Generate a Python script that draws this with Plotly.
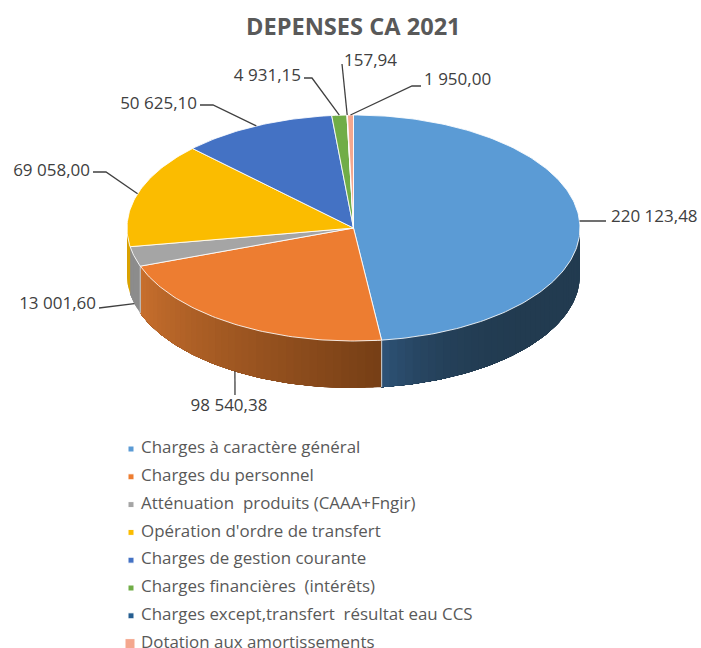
import math
from plotly import graph_objects as go

title = "DEPENSES CA 2021"
categories = ["Charges à caractère général", "Charges du personnel", "Atténuation  produits (CAAA+Fngir)",
              "Opération d'ordre de transfert", "Charges de gestion courante", "Charges financières  (intérêts)",
              "Charges except,transfert  résultat eau CCS", "Dotation aux amortissements"]
values = [220123.48, 98540.38, 13001.60, 69058.00, 50625.10, 4931.15, 157.94, 1950.00]
colors = ["#5B9BD5", "#ED7D31", "#A5A5A5", "#FBBC00", "#4472C4", "#70AD47", "#255E91", "#F4A78E"]
# wall colour at the start and end of each slice (only the front ones show)
wall_colors = [("#223B50", "#2E5378"), ("#763F16", "#C9702E"), ("#8C8C8C", "#8C8C8C"), ("#D9A200", "#D9A200"),
               None, None, None, None]
wall_gamma = [6, 1, 1, 1, 1, 1, 1, 1]

# pie geometry in page pixels
cx, cy, rx, ry, depth = 353.5, 228, 226.5, 113, 47
# label placement: text anchor, elbow point, which side the text sits on
label_pos = [(611, 218), (229, 407), (96, 305), (90, 172), (197, 105), (301, 77), (344, 62), (424, 81)]
elbows = [(606, 221), (235, 395), (100, 308), (106, 172), (213, 105), (312, 78), (342, 64), (412, 86)]
label_side = ["middle right", "middle center", "middle left", "middle left", "middle left", "middle left",
              "middle right", "middle right"]
legend_y0, legend_step = 449, 27.8


def pt(angle, drop=0):
    a = math.radians(angle)
    return cx + rx * math.sin(a), cy - ry * math.cos(a) + drop


def arc(a0, a1, drop=0, step=1.0):
    n = max(2, int(abs(a1 - a0) / step) + 2)
    return [pt(a0 + (a1 - a0) * i / (n - 1), drop) for i in range(n)]


def mix(c0, c1, t):
    p = [int(c0[i:i + 2], 16) for i in (1, 3, 5)]
    q = [int(c1[i:i + 2], 16) for i in (1, 3, 5)]
    return "rgb(%d,%d,%d)" % tuple(p[i] + (q[i] - p[i]) * t for i in range(3))


def polygon(points, **kw):
    return go.Scatter(x=[p[0] for p in points], y=[p[1] for p in points], mode="lines", fill="toself",
                      hoverinfo="skip", showlegend=False, **kw)


def fmt(v):
    return f"{v:,.2f}".replace(",", " ").replace(".", ",")


total = sum(values)
edges = [0]
for v in values:
    edges.append(edges[-1] + v / total * 360)
mids = [(edges[i] + edges[i + 1]) / 2 for i in range(len(values))]

fig = go.Figure()

# front wall: each strip runs to the end of the slice and the next one paints over it, so no seams show
for i, wc in enumerate(wall_colors):
    a0, a1 = max(edges[i], 90), min(edges[i + 1], 270)
    if wc is None or a0 >= a1:
        continue
    n = max(1, int((a1 - a0) / 2))
    for k in range(n):
        s0 = a0 + (a1 - a0) * k / n
        c = mix(wc[0], wc[1], ((k + 0.5) / n) ** wall_gamma[i])
        fig.add_trace(polygon(arc(s0, a1) + arc(a1, s0, depth), fillcolor=c, line=dict(width=0)))

# light seams between wall pieces
for i in (0, 1):
    x0, y0 = pt(edges[i + 1])
    fig.add_trace(go.Scatter(x=[x0, x0], y=[y0, y0 + depth], mode="lines", hoverinfo="skip", showlegend=False,
                             line=dict(color="#BFBFBF", width=1.2)))

# top face
for i, name in enumerate(categories):
    fig.add_trace(polygon([(cx, cy)] + arc(edges[i], edges[i + 1]) + [(cx, cy)], fillcolor=colors[i], name=name,
                          line=dict(color="rgba(255,255,255,0.85)", width=1)))

# leader lines and value labels
for i, v in enumerate(values):
    drop = depth if i in (1, 2) else 0
    x0, y0 = pt(mids[i], drop)
    lx = [x0, elbows[i][0]]
    ly = [y0, elbows[i][1]]
    if label_side[i] == "middle left":
        lx.append(label_pos[i][0] + 3)
        ly.append(elbows[i][1])
    elif i == 7:
        lx.append(label_pos[i][0] - 3)
        ly.append(elbows[i][1])
    fig.add_trace(go.Scatter(x=lx, y=ly, mode="lines", hoverinfo="skip", showlegend=False,
                             line=dict(color="#404040", width=1.3)))
fig.add_trace(go.Scatter(x=[p[0] for p in label_pos], y=[p[1] for p in label_pos], mode="text",
                         text=[fmt(v) for v in values], textposition=label_side, hoverinfo="skip", showlegend=False,
                         textfont=dict(family="Open Sans", size=17, color="#404040")))

# legend
legend_ys = [legend_y0 + i * legend_step for i in range(len(categories))]
fig.add_trace(go.Scatter(x=[131] * 7 + [130], y=legend_ys, mode="markers", hoverinfo="skip", showlegend=False,
                         marker=dict(symbol="square", color=colors, opacity=1, size=[6] * 7 + [10])))
fig.add_trace(go.Scatter(x=[141] * len(categories), y=legend_ys, mode="text", text=categories,
                         textposition="middle right", hoverinfo="skip", showlegend=False,
                         textfont=dict(family="Open Sans", size=16.9, color="#595959")))

fig.update_xaxes(range=[0, 701], visible=False, fixedrange=True)
fig.update_yaxes(range=[648, 0], visible=False, fixedrange=True)
fig.update_layout(width=701, height=648, margin=dict(l=0, r=0, t=0, b=0),
                  paper_bgcolor="white", plot_bgcolor="white", showlegend=False,
                  title=dict(text=f"<b>{title}</b>", x=0.504, y=0.958, xanchor="center", yanchor="middle",
                             font=dict(family="Open Sans", size=23.6, color="#595959")))
fig.write_html("out.html", post_script="document.body.style.margin='0';", config=dict(displayModeBar=False))
